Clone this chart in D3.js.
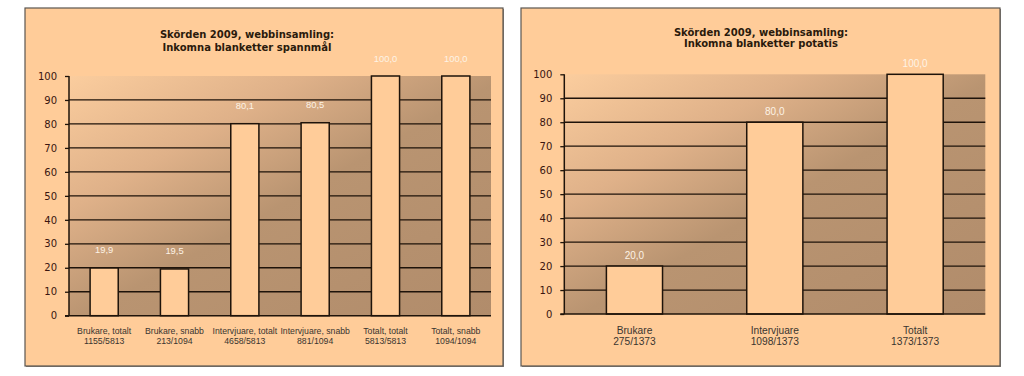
<!DOCTYPE html>
<html>
<head>
<meta charset="utf-8">
<script src="https://cdn.jsdelivr.net/npm/d3@7"></script>
<style>
  body { margin: 0; background: #fff; }
  svg { display: block; }
</style>
</head>
<body>
<svg id="chart" width="1024" height="376"></svg>
<script>
// data
const grainTitle = ['Skörden 2009, webbinsamling:', 'Inkomna blanketter spannmål'];
const grainLabels = ['Brukare, totalt', 'Brukare, snabb', 'Intervjuare, totalt', 'Intervjuare, snabb', 'Totalt, totalt', 'Totalt, snabb'];
const grainCounts = ['1155/5813', '213/1094', '4658/5813', '881/1094', '5813/5813', '1094/1094'];
const grainValues = [19.9, 19.5, 80.1, 80.5, 100.0, 100.0];

const potatoTitle = ['Skörden 2009, webbinsamling:', 'Inkomna blanketter potatis'];
const potatoLabels = ['Brukare', 'Intervjuare', 'Totalt'];
const potatoCounts = ['275/1373', '1098/1373', '1373/1373'];
const potatoValues = [20.0, 80.0, 100.0];

const yTicks = [0, 10, 20, 30, 40, 50, 60, 70, 80, 90, 100];

const svg = d3.select('#chart');
const sv = d3.formatLocale({ decimal: ',', thousands: ' ', grouping: [3], currency: ['', ' kr'] });
const fmt = sv.format('.1f');

// plot background gradient
const defs = svg.append('defs');
const grad = defs.append('linearGradient')
  .attr('id', 'plotGrad')
  .attr('x1', 0).attr('y1', 0).attr('x2', 1).attr('y2', 1);
grad.append('stop').attr('offset', 0).attr('stop-color', '#fbcd9e');
grad.append('stop').attr('offset', 0.28).attr('stop-color', '#dfb189');
grad.append('stop').attr('offset', 0.52).attr('stop-color', '#b99471');
grad.append('stop').attr('offset', 1).attr('stop-color', '#b18c6b');

const drawChart = (opts) => {
  const g = svg.append('g');

  // chart box
  g.append('rect')
    .attr('x', opts.box[0] + 1).attr('y', opts.box[1] + 1)
    .attr('width', opts.box[2] - opts.box[0]).attr('height', opts.box[3] - opts.box[1])
    .attr('fill', '#8a8580');
  g.append('rect')
    .attr('x', opts.box[0]).attr('y', opts.box[1])
    .attr('width', opts.box[2] - opts.box[0]).attr('height', opts.box[3] - opts.box[1])
    .attr('fill', '#ffcc99')
    .attr('stroke', '#5a5550')
    .attr('stroke-width', 1.2);

  // title
  g.append('text')
    .attr('x', opts.titleX)
    .attr('text-anchor', 'middle')
    .attr('font-family', 'DejaVu Sans, Verdana, sans-serif')
    .attr('font-weight', 'bold')
    .attr('font-size', '10px')
    .attr('fill', '#2a1a0c')
    .selectAll('tspan')
    .data(opts.title)
    .enter()
    .append('tspan')
    .attr('x', opts.titleX)
    .attr('y', (d, i) => opts.titleY + i * opts.titleGap)
    .text((d) => d);

  const x = d3.scaleBand()
    .domain(opts.labels)
    .range([opts.plot[0], opts.plot[1]])
    .paddingInner(0.6)
    .paddingOuter(0.3);

  const y = d3.scaleLinear()
    .domain([0, 100])
    .range([opts.plot[3], opts.plot[2]]);

  // plot area
  g.append('rect')
    .attr('x', opts.plot[0]).attr('y', y(100))
    .attr('width', opts.plot[1] - opts.plot[0])
    .attr('height', y(0) - y(100))
    .attr('fill', 'url(#plotGrad)');

  // gridlines
  g.append('g')
    .selectAll('line')
    .data(yTicks.filter((t) => t > 0 && t < 100))
    .enter()
    .append('line')
    .attr('x1', opts.plot[0]).attr('x2', opts.plot[1])
    .attr('y1', (d) => y(d)).attr('y2', (d) => y(d))
    .attr('stroke', '#1e130a')
    .attr('stroke-width', 1.3);

  // y axis
  const leftAxis = d3.axisLeft(y)
    .tickValues(yTicks)
    .tickSize(4)
    .tickPadding(opts.tickPad)
    .tickFormat(d3.format('d'));
  const ay = g.append('g')
    .attr('transform', `translate(${opts.plot[0]}, 0)`)
    .call(leftAxis);
  ay.select('.domain').remove();
  ay.selectAll('.tick line').attr('stroke', '#1e130a').attr('stroke-width', 1.3);
  ay.selectAll('.tick text')
    .attr('font-family', 'DejaVu Sans, Verdana, sans-serif')
    .attr('font-size', '10px')
    .attr('fill', '#3a1510');
  g.append('line')
    .attr('x1', opts.plot[0]).attr('x2', opts.plot[0])
    .attr('y1', y(100)).attr('y2', y(0))
    .attr('stroke', '#1e130a').attr('stroke-width', 1.5);

  // bars
  const rows = opts.labels.map((l, i) => ({ label: l, count: opts.counts[i], value: opts.values[i] }));
  g.append('g')
    .selectAll('rect')
    .data(rows)
    .enter()
    .append('rect')
    .attr('x', (d) => x(d.label))
    .attr('y', (d) => y(d.value))
    .attr('width', x.bandwidth())
    .attr('height', (d) => y(0) - y(d.value))
    .attr('fill', '#ffcc99')
    .attr('stroke', '#1e130a')
    .attr('stroke-width', 1.5);

  // x axis baseline
  g.append('line')
    .attr('x1', opts.plot[0] - 4).attr('x2', opts.plot[1])
    .attr('y1', y(0)).attr('y2', y(0))
    .attr('stroke', '#1e130a').attr('stroke-width', 1.5);

  // value labels
  g.append('g')
    .selectAll('text')
    .data(rows)
    .enter()
    .append('text')
    .attr('x', (d) => x(d.label) + x.bandwidth() / 2)
    .attr('y', (d) => y(d.value) - opts.valueOffset)
    .attr('text-anchor', 'middle')
    .attr('font-family', 'Liberation Sans, Arial, sans-serif')
    .attr('font-size', opts.valueSize)
    .attr('fill', '#fdf3e6')
    .text((d) => fmt(d.value));

  // category labels
  const cat = g.append('g')
    .selectAll('text')
    .data(rows)
    .enter()
    .append('text')
    .attr('text-anchor', 'middle')
    .attr('font-family', 'Liberation Sans, Arial, sans-serif')
    .attr('font-size', opts.catSize)
    .attr('fill', '#3a3530');
  cat.append('tspan')
    .attr('x', (d) => x(d.label) + x.bandwidth() / 2)
    .attr('y', opts.catY)
    .text((d) => d.label);
  cat.append('tspan')
    .attr('x', (d) => x(d.label) + x.bandwidth() / 2)
    .attr('y', opts.catY + opts.catGap)
    .text((d) => d.count);
};

drawChart({
  box: [25, 8, 503, 366],
  plot: [69, 491, 76, 315.7],
  title: grainTitle,
  titleX: 247,
  titleY: 38,
  titleGap: 12.5,
  labels: grainLabels,
  counts: grainCounts,
  values: grainValues,
  tickPad: 8,
  valueOffset: 14.5,
  valueSize: '9.4px',
  catSize: '8.7px',
  catY: 334,
  catGap: 9.5
});

drawChart({
  box: [521, 8, 1000, 366],
  plot: [564.3, 985.3, 74.3, 314],
  title: potatoTitle,
  titleX: 761,
  titleY: 35.5,
  titleGap: 11.5,
  labels: potatoLabels,
  counts: potatoCounts,
  values: potatoValues,
  tickPad: 8,
  valueOffset: 7,
  valueSize: '10px',
  catSize: '10.2px',
  catY: 334,
  catGap: 11.4
});
</script>
</body>
</html>
